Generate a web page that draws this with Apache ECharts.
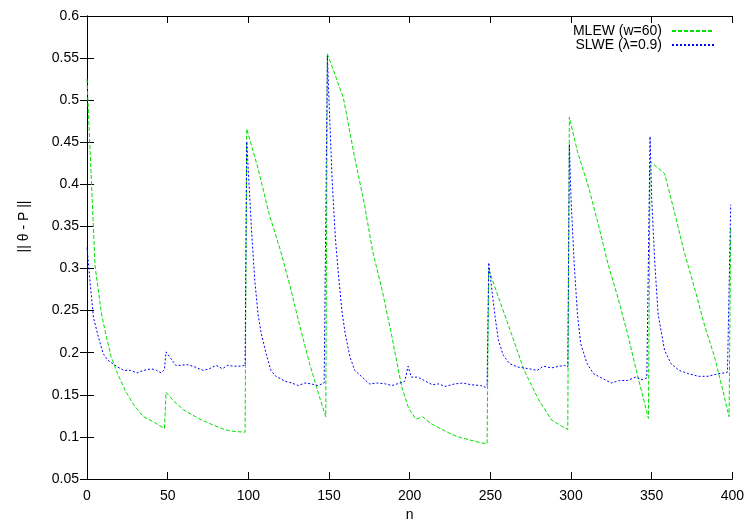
<!DOCTYPE html>
<html>
<head>
<meta charset="utf-8">
<script src="https://cdn.jsdelivr.net/npm/echarts@6/dist/echarts.min.js"></script>
<style>
  html, body { margin: 0; padding: 0; background: #fff; }
  #chart { width: 747px; height: 527px; }
</style>
</head>
<body>
<div id="chart"></div>
<script>
// MLEW (w=60) 曲线
var nMLEW = [0, 5, 9, 12, 15, 19, 24, 29, 35, 42, 48, 49, 54, 60, 69, 77, 85, 89, 98,
  99, 106, 113, 120, 126, 132, 138, 144, 148,
  149, 154, 159, 166, 172, 177, 183, 189, 195, 199, 200, 204, 208, 213, 220, 226, 232, 238, 244, 248,
  249, 255, 263, 271, 280, 288, 294, 298,
  299, 304, 311, 317, 323, 329, 335, 341, 348,
  349, 358, 364, 370, 377, 383, 389, 394, 398, 399];
var vMLEW = [0.525, 0.303, 0.246, 0.219, 0.195, 0.175, 0.154, 0.138, 0.124, 0.117, 0.110, 0.153, 0.142, 0.132, 0.122, 0.115, 0.109, 0.107, 0.1055,
  0.466, 0.419, 0.364, 0.321, 0.278, 0.231, 0.187, 0.148, 0.124,
  0.555, 0.529, 0.502, 0.431, 0.376, 0.321, 0.274, 0.219, 0.160, 0.136, 0.132, 0.121, 0.124, 0.116, 0.109, 0.103, 0.099, 0.096, 0.093, 0.092,
  0.299, 0.266, 0.223, 0.179, 0.144, 0.120, 0.113, 0.109,
  0.480, 0.439, 0.396, 0.352, 0.305, 0.266, 0.223, 0.175, 0.122,
  0.427, 0.413, 0.368, 0.321, 0.274, 0.231, 0.195, 0.156, 0.124, 0.35];

// SLWE (λ=0.9) 曲线
var nSLWE = [0, 2, 4, 7, 10, 13, 16, 19, 23, 27, 31, 35, 40, 43, 46, 48, 49, 52, 55, 58, 62, 67, 72, 76, 80, 84, 87, 91, 95, 98,
  99, 102, 104, 106, 108, 111, 114, 117, 123, 127, 131, 135, 139, 143, 147, 148,
  149, 150, 152, 154, 156, 158, 160, 163, 166, 170, 175, 180, 185, 189, 194, 197, 199, 201, 205, 209, 214, 218, 222, 228, 233, 238, 244, 247, 248,
  249, 251, 253, 255, 258, 262, 267, 274, 279, 283, 288, 293, 296, 298,
  299, 300, 302, 304, 306, 310, 314, 319, 325, 330, 335, 340, 344, 347, 348,
  349, 350, 352, 354, 358, 362, 367, 373, 379, 385, 391, 395, 397, 398, 399];
var vSLWE = [0.325, 0.282, 0.242, 0.219, 0.199, 0.191, 0.187, 0.183, 0.179, 0.179, 0.176, 0.179, 0.181, 0.179, 0.176, 0.180, 0.201, 0.193, 0.185, 0.185, 0.186, 0.183, 0.179, 0.181, 0.185, 0.181, 0.185, 0.184, 0.184, 0.185,
  0.451, 0.345, 0.286, 0.246, 0.223, 0.199, 0.179, 0.172, 0.166, 0.164, 0.161, 0.164, 0.163, 0.161, 0.164, 0.166,
  0.553, 0.50, 0.403, 0.335, 0.290, 0.250, 0.223, 0.195, 0.179, 0.172, 0.163, 0.164, 0.163, 0.161, 0.164, 0.166, 0.184, 0.171, 0.171, 0.167, 0.162, 0.163, 0.160, 0.163, 0.164, 0.162, 0.161, 0.159, 0.162,
  0.307, 0.274, 0.242, 0.215, 0.197, 0.187, 0.183, 0.181, 0.179, 0.184, 0.182, 0.184, 0.185, 0.183,
  0.448, 0.384, 0.305, 0.246, 0.211, 0.187, 0.175, 0.170, 0.164, 0.167, 0.167, 0.171, 0.168, 0.170, 0.168,
  0.457, 0.384, 0.305, 0.246, 0.203, 0.187, 0.179, 0.175, 0.172, 0.172, 0.175, 0.176, 0.177, 0.175, 0.376];

function zip(xs, ys) {
	return xs.map(function (x, i) { return [x, ys[i]]; });
}

var font = "'Liberation Sans', Arial, sans-serif";
var chart = echarts.init(document.getElementById('chart'), null, { renderer: 'canvas' });

var axisLine = { show: true, lineStyle: { color: '#000', width: 1 } };
var axisTick = { show: true, inside: true, length: 7, lineStyle: { color: '#000', width: 1 } };

function legendBox(name, top) {
	return {
		data: [name],
		right: 27, top: top,
		align: 'right',
		itemWidth: 42, itemHeight: 14,
		itemStyle: { opacity: 0 },
		textStyle: { fontSize: 14, color: '#000', fontFamily: font, padding: [0, 5, 0, 0] }
	};
}

var option = {
	animation: false,
	backgroundColor: '#fff',
	textStyle: { fontFamily: font },
	grid: { left: 87, right: 14, top: 16, bottom: 45 },
	legend: [legendBox('MLEW (w=60)', 19), legendBox('SLWE (λ=0.9)', 33)],
	xAxis: [
		{
			type: 'value', min: 0, max: 400, interval: 50,
			position: 'bottom',
			axisLine: axisLine, axisTick: axisTick,
			axisLabel: { fontSize: 14, color: '#000', margin: 10, fontFamily: font },
			splitLine: { show: false },
			name: 'n', nameLocation: 'middle', nameGap: 29,
			nameTextStyle: { fontSize: 14, color: '#000', fontFamily: font }
		},
		{
			type: 'value', min: 0, max: 400, interval: 50,
			position: 'top',
			axisLine: axisLine, axisTick: axisTick,
			axisLabel: { show: false },
			splitLine: { show: false }
		}
	],
	yAxis: [
		{
			type: 'value', min: 0.05, max: 0.6, interval: 0.05,
			position: 'left',
			axisLine: axisLine, axisTick: axisTick,
			axisLabel: {
				fontSize: 14, color: '#000', margin: 8, fontFamily: font,
				formatter: function (v) { return String(parseFloat(v.toFixed(2))); }
			},
			splitLine: { show: false },
			name: '|| θ - P ||', nameLocation: 'middle', nameGap: 56, nameRotate: 90,
			nameTextStyle: { fontSize: 14, color: '#000', fontFamily: font, padding: [0, 0, 0, 42] }
		},
		{
			type: 'value', min: 0.05, max: 0.6, interval: 0.05,
			position: 'right',
			axisLine: axisLine, axisTick: axisTick,
			axisLabel: { show: false },
			splitLine: { show: false }
		}
	],
	series: [
		{
			name: 'MLEW (w=60)',
			type: 'line',
			showSymbol: false, symbol: 'none',
			color: '#00e000',
			lineStyle: { color: '#00e000', width: 1, type: [4, 2] },
			data: zip(nMLEW, vMLEW)
		},
		{
			name: 'SLWE (λ=0.9)',
			type: 'line',
			showSymbol: false, symbol: 'none',
			color: '#0000ff',
			lineStyle: { color: '#0000ff', width: 1, type: [2, 2] },
			data: zip(nSLWE, vSLWE)
		}
	]
};

chart.setOption(option);
</script>
</body>
</html>
